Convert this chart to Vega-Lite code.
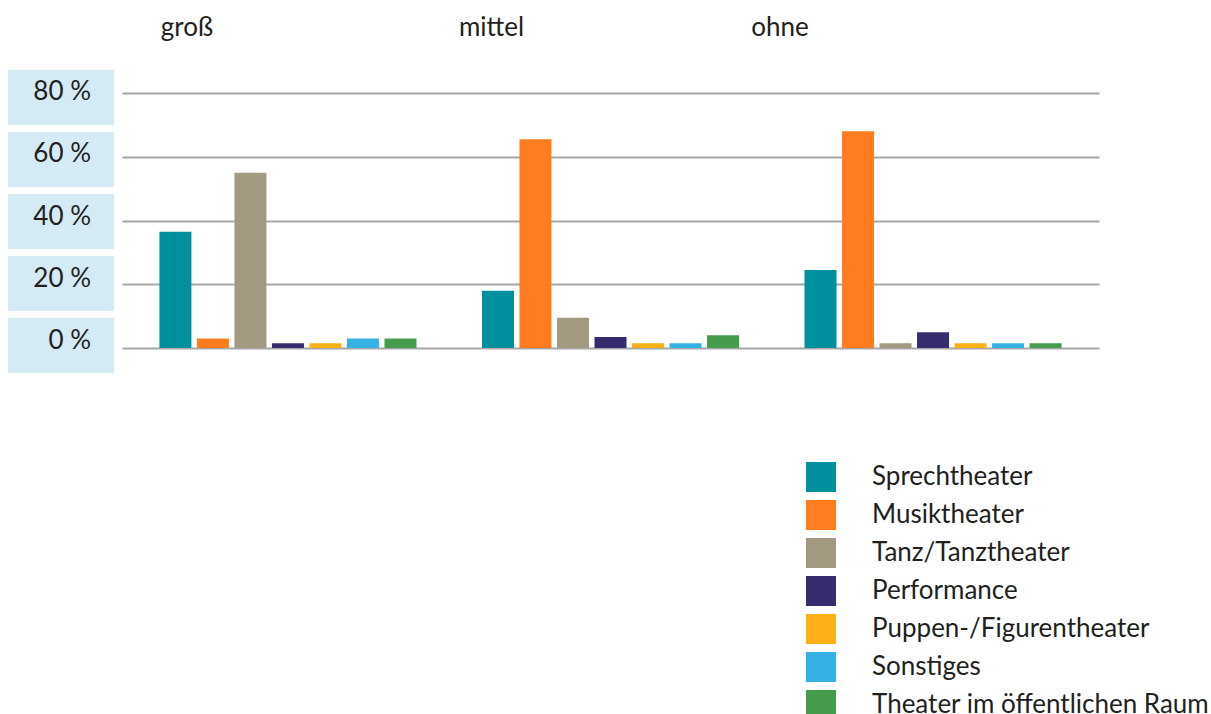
{
  "$schema": "https://vega.github.io/schema/vega-lite/v6.json",
  "config": {"font": "Lato", "view": {"stroke": null}},
  "padding": {"left": 8, "top": 14, "right": 0, "bottom": 0},
  "bounds": "flush",
  "spacing": 8,
  "datasets": {
    "ticks": [
      {"label": "80 %"}, {"label": "60 %"}, {"label": "40 %"}, {"label": "20 %"}, {"label": "0 %"}
    ],
    "bars": [
      {"group": "groß", "cat": "Sprechtheater", "value": 36.5},
      {"group": "groß", "cat": "Musiktheater", "value": 3},
      {"group": "groß", "cat": "Tanz/Tanztheater", "value": 55},
      {"group": "groß", "cat": "Performance", "value": 1.5},
      {"group": "groß", "cat": "Puppen-/Figurentheater", "value": 1.5},
      {"group": "groß", "cat": "Sonstiges", "value": 3},
      {"group": "groß", "cat": "Theater im öffentlichen Raum", "value": 3},
      {"group": "mittel", "cat": "Sprechtheater", "value": 18},
      {"group": "mittel", "cat": "Musiktheater", "value": 65.5},
      {"group": "mittel", "cat": "Tanz/Tanztheater", "value": 9.5},
      {"group": "mittel", "cat": "Performance", "value": 3.5},
      {"group": "mittel", "cat": "Puppen-/Figurentheater", "value": 1.5},
      {"group": "mittel", "cat": "Sonstiges", "value": 1.5},
      {"group": "mittel", "cat": "Theater im öffentlichen Raum", "value": 4},
      {"group": "ohne", "cat": "Sprechtheater", "value": 24.5},
      {"group": "ohne", "cat": "Musiktheater", "value": 68},
      {"group": "ohne", "cat": "Tanz/Tanztheater", "value": 1.5},
      {"group": "ohne", "cat": "Performance", "value": 5},
      {"group": "ohne", "cat": "Puppen-/Figurentheater", "value": 1.5},
      {"group": "ohne", "cat": "Sonstiges", "value": 1.5},
      {"group": "ohne", "cat": "Theater im öffentlichen Raum", "value": 1.5}
    ]
  },
  "hconcat": [
    {
      "width": 106,
      "height": 303,
      "data": {"name": "ticks"},
      "layer": [
        {
          "mark": {"type": "rect", "color": "#d4eaf5"},
          "encoding": {
            "y": {"field": "label", "type": "ordinal", "sort": ["80 %", "60 %", "40 %", "20 %", "0 %"], "scale": {"paddingInner": 0.113, "paddingOuter": 0}, "axis": null}
          }
        },
        {
          "mark": {"type": "text", "align": "right", "baseline": "middle", "dx": 30, "dy": -5, "fontSize": 26, "color": "#231f20"},
          "encoding": {
            "y": {"field": "label", "type": "ordinal", "sort": ["80 %", "60 %", "40 %", "20 %", "0 %"], "axis": null},
            "text": {"field": "label"}
          }
        }
      ]
    },
    {
      "width": 977,
      "height": 303,
      "data": {"name": "bars"},
      "mark": {"type": "bar"},
      "encoding": {
        "x": {
          "field": "group", "type": "nominal", "sort": ["groß", "mittel", "ohne"],
          "scale": {"paddingInner": 0.203, "paddingOuter": 0.116},
          "axis": {
            "orient": "top", "title": null, "domain": false, "ticks": false, "labelAngle": 0,
            "labelFontSize": 26, "labelColor": "#231f20", "labelPadding": 35, "labelBaseline": "alphabetic",
            "labelOffset": {"condition": [{"test": "datum.value === 'groß'", "value": -101}, {"test": "datum.value === 'mittel'", "value": -119}], "value": -153}
          }
        },
        "xOffset": {
          "field": "cat",
          "sort": ["Sprechtheater", "Musiktheater", "Tanz/Tanztheater", "Performance", "Puppen-/Figurentheater", "Sonstiges", "Theater im öffentlichen Raum"],
          "scale": {"paddingInner": 0.147, "paddingOuter": 0}
        },
        "y": {
          "field": "value", "type": "quantitative",
          "scale": {"domain": [-7.8, 87.2], "nice": false, "zero": false},
          "axis": {"values": [0, 20, 40, 60, 80], "labels": false, "ticks": false, "domain": false, "title": null, "gridColor": "#a7a7ab", "gridWidth": 2, "gridOpacity": 1}
        },
        "y2": {"datum": 0},
        "color": {
          "field": "cat", "type": "nominal",
          "scale": {
            "domain": ["Sprechtheater", "Musiktheater", "Tanz/Tanztheater", "Performance", "Puppen-/Figurentheater", "Sonstiges", "Theater im öffentlichen Raum"],
            "range": ["#00909e", "#ff7c21", "#a39880", "#342c6d", "#fbb116", "#35b2e3", "#459c4d"]
          },
          "legend": {
            "orient": "none", "legendX": 798, "legendY": 392, "title": null,
            "symbolType": "square", "symbolSize": 900, "symbolStrokeWidth": 0, "symbolOpacity": 1,
            "labelFontSize": 26, "labelColor": "#231f20", "labelOffset": 36, "rowPadding": 8,
            "padding": 0, "labelLimit": 500
          }
        }
      }
    }
  ]
}
